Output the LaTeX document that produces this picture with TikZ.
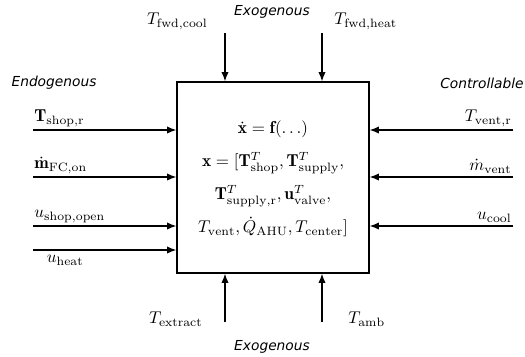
\documentclass[tikz,border=0pt]{standalone}
\usepackage{amsmath}
\usepackage{fontspec}
\newfontfamily\labelfont{DejaVu Sans}
\usetikzlibrary{arrows.meta}
\begin{document}
\begin{tikzpicture}[x=0.5882pt,y=0.5882pt,
  every node/.style={inner sep=0.6pt},
  mathlbl/.style={font=\fontsize{10.2}{12}\selectfont},
  grplbl/.style={font=\labelfont\itshape\fontsize{8.1}{9.5}\selectfont},
  sig/.style={line width=0.75pt,-{Latex[length=5.5pt,width=4.3pt]}},
  sysbox/.style={draw,line width=0.75pt,minimum width=112.9pt,minimum height=112.3pt}]
\useasboundingbox (0,0) rectangle (525,356);
% system box
\node[sysbox] (sys) at (273,178.5) {};
\node[align=center,font=\fontsize{10.2}{19.4}\selectfont] (eq) at (273,177) {%
$\dot{\mathbf{x}} = \mathbf{f}(\ldots)$\\
$\mathbf{x} = [\mathbf{T}^T_{\mathrm{shop}}, \mathbf{T}^T_{\mathrm{supply}},$\\
$\mathbf{T}^T_{\mathrm{supply,r}}, \mathbf{u}^T_{\mathrm{valve}},$\\
$T_{\mathrm{vent}}, \dot{Q}_{\mathrm{AHU}}, T_{\mathrm{center}}]$};
% group labels
\node[grplbl] (endo) at (54,273) {Endogenous};
\node[grplbl,anchor=east] (ctrl) at (525,273) {Controllable};
\node[grplbl] (exotop) at (272,344) {Exogenous};
\node[grplbl] (exobot) at (272,9) {Exogenous};
% left inputs
\coordinate (l1) at (33,226);
\coordinate (l2) at (33,179);
\coordinate (l3) at (33,130);
\coordinate (l4) at (33,106);
\draw[sig] (l1) -- (l1 -| sys.west);
\draw[sig] (l2) -- (l2 -| sys.west);
\draw[sig] (l3) -- (l3 -| sys.west);
\draw[sig] (l4) -- (l4 -| sys.west);
\node[mathlbl,anchor=south west] (tshop) at ([yshift=1.2pt]l1) {$\mathbf{T}_{\mathrm{shop,r}}$};
\node[mathlbl,anchor=south west] (mfc) at ([yshift=1.2pt]l2) {$\dot{\mathbf{m}}_{\mathrm{FC,on}}$};
\node[mathlbl,anchor=south west] (ushop) at ([yshift=1.2pt]l3) {$u_{\mathrm{shop,open}}$};
\node[mathlbl,anchor=north] (uheat) at ([xshift=19pt,yshift=-2.4pt]l4) {$u_{\mathrm{heat}}$};
% right inputs
\coordinate (r1) at (513,226);
\coordinate (r2) at (513,179);
\coordinate (r3) at (513,130);
\draw[sig] (r1) -- (r1 -| sys.east);
\draw[sig] (r2) -- (r2 -| sys.east);
\draw[sig] (r3) -- (r3 -| sys.east);
\node[mathlbl,anchor=south east] (tvent) at ([yshift=1.2pt]r1) {$T_{\mathrm{vent,r}}$};
\node[mathlbl,anchor=south east] (mvent) at ([yshift=1.2pt]r2) {$\dot{m}_{\mathrm{vent}}$};
\node[mathlbl,anchor=south east] (ucool) at ([yshift=1.2pt]r3) {$u_{\mathrm{cool}}$};
% top inputs
\coordinate (t1) at (225,323);
\coordinate (t2) at (322,323);
\draw[sig] (t1) -- (t1 |- sys.north);
\draw[sig] (t2) -- (t2 |- sys.north);
\node[mathlbl,anchor=east] (tfc) at (209,335) {$T_{\mathrm{fwd,cool}}$};
\node[mathlbl,anchor=west] (tfh) at (333,335) {$T_{\mathrm{fwd,heat}}$};
% bottom inputs
\coordinate (b1) at (225,34);
\coordinate (b2) at (322,34);
\draw[sig] (b1) -- (b1 |- sys.south);
\draw[sig] (b2) -- (b2 |- sys.south);
\node[mathlbl,anchor=east] (text) at (204,37) {$T_{\mathrm{extract}}$};
\node[mathlbl,anchor=west] (tamb) at (347,37) {$T_{\mathrm{amb}}$};
\end{tikzpicture}
\end{document}
